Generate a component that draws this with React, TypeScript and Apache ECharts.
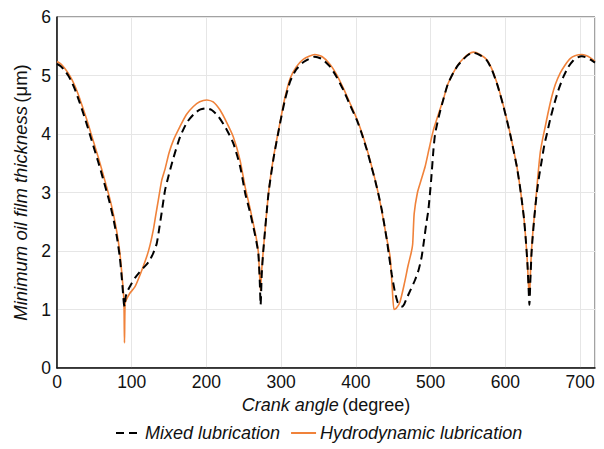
import React, { useEffect, useRef } from "react";
import * as echarts from "echarts";

// Crank angle (degree) / minimum oil film thickness (µm)
const mixedAngle = [
  0, 5, 10, 15, 20, 25, 30, 35, 40, 45, 50, 55, 60, 65, 70, 75, 80, 84, 87, 89.5, 90.5,
  92, 95, 100, 104.4, 110, 115.5, 120, 124.5, 129, 133.5, 137, 140, 144.6, 149, 156, 164.7, 174, 184.7, 192, 199.5, 207, 216, 226, 236, 245, 252, 258, 263, 267, 269.5, 271.3, 272.5,
  274, 276, 283, 290, 298.5, 305, 312, 320, 330, 345, 355, 365.5, 374, 383.3, 392, 401.2, 408, 414.6, 420, 425.7, 430, 434.7, 441.4, 444, 448, 452.5, 456, 459, 462,
  465, 468, 473, 479, 484, 488, 491.3, 494, 497, 500.7, 503.8, 506, 511, 517.2, 523, 530.5, 537, 543.9, 550, 557.3, 566, 575.2, 582, 588.6, 593, 597.5, 602, 606.4, 611, 615.4, 619, 622, 625, 627.4, 629.5, 631, 632.2,
  633.5, 635, 636.3, 639, 642.2, 645.5, 648.9, 652, 655.6, 660, 664.5, 671, 677.8, 684, 691.2, 697, 702.4, 708, 714, 720,
];
const mixedFilm = [
  5.2, 5.16, 5.09, 5.0, 4.88, 4.73, 4.55, 4.36, 4.16, 3.95, 3.74, 3.53, 3.31, 3.08, 2.85, 2.58, 2.25, 1.9, 1.5, 1.1, 1.05,
  1.22, 1.33, 1.45, 1.54, 1.63, 1.71, 1.77, 1.85, 1.97, 2.13, 2.4, 2.65, 3.04, 3.27, 3.6, 3.95, 4.2, 4.36, 4.42, 4.44, 4.41, 4.3, 4.1, 3.84, 3.45, 2.98, 2.68, 2.4, 2.15, 1.95, 1.5, 1.08,
  1.6, 1.99, 2.98, 3.6, 4.18, 4.58, 4.9, 5.1, 5.23, 5.32, 5.28, 5.15, 4.98, 4.75, 4.5, 4.24, 4.0, 3.73, 3.48, 3.21, 2.98, 2.7, 2.19, 1.95, 1.6, 1.28, 1.12, 1.06, 1.05,
  1.1, 1.19, 1.33, 1.5, 1.68, 1.9, 2.19, 2.45, 2.7, 3.21, 3.73, 4.0, 4.3, 4.6, 4.85, 5.05, 5.18, 5.28, 5.35, 5.39, 5.35, 5.26, 5.1, 4.87, 4.68, 4.47, 4.24, 4.0, 3.72, 3.44, 3.15, 2.87, 2.55, 2.19, 1.8, 1.4, 1.08,
  1.5, 1.95, 2.19, 2.6, 3.0, 3.3, 3.56, 3.8, 4.0, 4.25, 4.47, 4.75, 4.98, 5.14, 5.26, 5.31, 5.33, 5.31, 5.27, 5.22,
];

const hydroAngle = [
  0, 5, 10, 15, 20, 25, 30, 35, 40, 45, 50, 55, 60, 65, 70, 75, 80, 84, 87, 89.5, 90.3, 91.2,
  93.3, 97, 104.4, 112, 120, 124.5, 128.9, 132, 135.6, 140, 144.6, 150, 156, 164.7, 173, 182.5, 191, 200.4, 209, 218.2, 227, 236, 245, 252, 258, 263, 267, 269.5, 271.3, 272.3,
  273.5, 276, 283, 290, 298.5, 305, 312, 320, 330, 345, 355, 365.5, 374, 383.3, 392, 401.2, 408, 414.6, 420, 425.7, 430, 434.7, 440, 445.8, 448.5, 451,
  454, 459, 465, 470, 474, 476, 478, 482.4, 487, 492.6, 498, 503.8, 510, 517.2, 523, 530.5, 537, 543.9, 550, 557.3, 566, 575.2, 582, 588.6, 593, 597.5, 602, 606.4, 611, 615.4, 619, 622, 625, 627.4, 629.5, 631.5, 632.5,
  633.5, 635, 637, 640, 643, 646.6, 650, 653.3, 657, 662.2, 667, 673.4, 680, 686.7, 694, 702.4, 708, 714, 720,
];
const hydroFilm = [
  5.24, 5.2, 5.13, 5.04, 4.93, 4.79, 4.62, 4.43, 4.24, 4.03, 3.82, 3.61, 3.39, 3.16, 2.93, 2.66, 2.33, 1.98, 1.58, 1.18, 0.43, 1.12,
  1.18, 1.27, 1.39, 1.62, 1.9, 2.1, 2.36, 2.6, 2.87, 3.2, 3.4, 3.68, 3.9, 4.13, 4.33, 4.47, 4.55, 4.58, 4.55, 4.41, 4.2, 3.95, 3.55, 3.08, 2.75, 2.45, 2.2, 1.97, 1.55, 1.32,
  1.6, 2.0, 2.98, 3.62, 4.2, 4.62, 4.95, 5.14, 5.28, 5.36, 5.32, 5.19, 5.02, 4.78, 4.53, 4.26, 4.02, 3.75, 3.5, 3.22, 2.98, 2.68, 2.3, 1.9, 1.4, 1.0,
  1.02, 1.13, 1.45, 1.76, 1.97, 2.12, 2.64, 3.0, 3.2, 3.44, 3.75, 4.07, 4.32, 4.6, 4.85, 5.05, 5.19, 5.29, 5.36, 5.4, 5.36, 5.27, 5.11, 4.88, 4.69, 4.48, 4.25, 4.01, 3.73, 3.45, 3.15, 2.87, 2.55, 2.19, 1.8, 1.32, 1.25,
  1.6, 2.0, 2.35, 2.76, 3.2, 3.67, 3.92, 4.12, 4.35, 4.64, 4.85, 5.04, 5.18, 5.29, 5.34, 5.36, 5.34, 5.3, 5.24,
];

const xTicks = { min: 0, max: 720, interval: 100 };
const yTicks = { min: 0, max: 6, interval: 1 };

const seriesNames = ["Mixed lubrication", "Hydrodynamic lubrication"];

export default function App() {
  const ref = useRef<HTMLDivElement>(null);
  useEffect(() => {
    if (!ref.current) return;
    const chart = echarts.init(ref.current, undefined, { renderer: "svg" });
    const font = "Liberation Sans, Arial, sans-serif";
    chart.setOption({
      animation: false,
      textStyle: { fontFamily: font },
      grid: {
        left: 57,
        top: 17,
        right: 9,
        bottom: 81,
        show: true,
        borderColor: "#444",
        borderWidth: 1,
      },
      legend: {
        data: seriesNames,
        bottom: 2,
        left: 110,
        itemWidth: 25,
        itemHeight: 10,
        itemGap: 10,
        itemStyle: { opacity: 0 },
        textStyle: { fontSize: 18, fontStyle: "italic", color: "#111", fontFamily: font, padding: [0, 0, 0, -1] },
      },
      xAxis: {
        type: "value",
        min: xTicks.min,
        max: xTicks.max,
        interval: xTicks.interval,
        name: "{i|Crank angle} {n|(degree)}",
        nameLocation: "middle",
        nameGap: 28,
        nameTextStyle: {
          rich: {
            i: { fontSize: 18, fontStyle: "italic", color: "#111", fontFamily: font },
            n: { fontSize: 18, color: "#111", fontFamily: font },
          },
        },
        axisLine: { lineStyle: { color: "#111", width: 1.5 } },
        axisTick: { show: false },
        axisLabel: { fontSize: 17.5, color: "#111", margin: 5, showMaxLabel: false },
        splitLine: { show: true, lineStyle: { color: "#e6e6e6", width: 1 } },
      },
      yAxis: {
        type: "value",
        min: yTicks.min,
        max: yTicks.max,
        interval: yTicks.interval,
        name: "{i|Minimum oil film thickness} {n|(μm)}",
        nameLocation: "middle",
        nameRotate: 90,
        nameGap: 25,
        nameTextStyle: {
          rich: {
            i: { fontSize: 18.5, fontStyle: "italic", color: "#111", fontFamily: font },
            n: { fontSize: 18.5, color: "#111", fontFamily: font },
          },
        },
        axisLine: { show: true, lineStyle: { color: "#111", width: 1.5 } },
        axisTick: { show: false },
        axisLabel: { fontSize: 17.5, color: "#111", margin: 6 },
        splitLine: { show: true, lineStyle: { color: "#e6e6e6", width: 1 } },
      },
      series: [
        {
          name: seriesNames[1],
          type: "line",
          data: hydroAngle.map((a, i) => [a, hydroFilm[i]]),
          symbol: "none",
          smooth: 0.2,
          z: 2,
          lineStyle: { color: "#F0823A", width: 1.6 },
          itemStyle: { color: "#F0823A" },
        },
        {
          name: seriesNames[0],
          type: "line",
          data: mixedAngle.map((a, i) => [a, mixedFilm[i]]),
          symbol: "none",
          smooth: 0.2,
          z: 3,
          lineStyle: { color: "#000", width: 2, type: [8, 5] },
          itemStyle: { color: "#000" },
        },
      ],
    });
    return () => chart.dispose();
  }, []);
  return (
    <div
      ref={ref}
      style={{ position: "fixed", left: 0, top: 0, width: 604, height: 449, background: "#fff" }}
    />
  );
}
